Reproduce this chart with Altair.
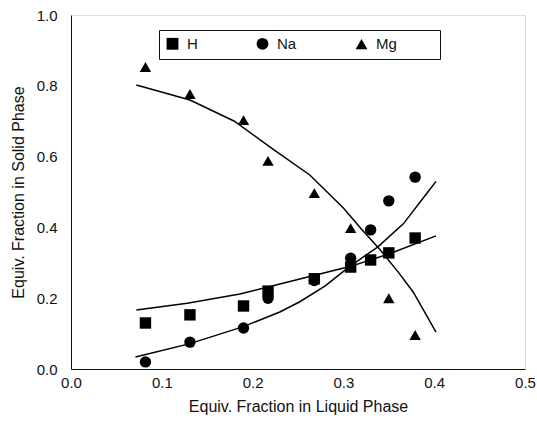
import altair as alt
import pandas as pd

# ---- data ----
liquid_x = [0.082, 0.131, 0.19, 0.217, 0.268, 0.308, 0.330, 0.350, 0.379]
h_solid = [0.130, 0.153, 0.178, 0.220, 0.255, 0.288, 0.308, 0.328, 0.370]
na_solid = [0.020, 0.076, 0.116, 0.200, 0.250, 0.313, 0.393, 0.475, 0.542]
mg_solid = [0.853, 0.777, 0.703, 0.588, 0.497, 0.398, None, 0.200, 0.096]

h_fit_x = [0.072, 0.128, 0.186, 0.252, 0.308, 0.350, 0.402]
h_fit_y = [0.167, 0.186, 0.212, 0.254, 0.290, 0.325, 0.376]

na_fit_x = [0.071, 0.130, 0.189, 0.230, 0.252, 0.280, 0.307, 0.338, 0.366, 0.393, 0.402]
na_fit_y = [0.034, 0.071, 0.119, 0.161, 0.190, 0.235, 0.290, 0.345, 0.410, 0.500, 0.530]

mg_fit_x = [0.072, 0.131, 0.180, 0.222, 0.263, 0.300, 0.320, 0.340, 0.360, 0.377, 0.402]
mg_fit_y = [0.802, 0.760, 0.700, 0.622, 0.548, 0.455, 0.395, 0.338, 0.275, 0.217, 0.104]

ions = ["H", "Na", "Mg"]
shapes = ["square", "circle", "triangle-up"]

rows = []
for ion, ys in zip(ions, [h_solid, na_solid, mg_solid]):
    for x, y in zip(liquid_x, ys):
        if y is not None:
            rows.append({"x": x, "y": y, "ion": ion})
pts = pd.DataFrame(rows)

frows = []
for ion, xs, ys in zip(ions, [h_fit_x, na_fit_x, mg_fit_x], [h_fit_y, na_fit_y, mg_fit_y]):
    for i, (x, y) in enumerate(zip(xs, ys)):
        frows.append({"x": x, "y": y, "ion": ion, "order": i})
fits = pd.DataFrame(frows)

FONT = "Liberation Sans"

xscale = alt.Scale(domain=[0, 0.5], nice=False)
yscale = alt.Scale(domain=[0, 1.0], nice=False)

xaxis = alt.Axis(title="Equiv. Fraction in Liquid Phase", values=[0, 0.1, 0.2, 0.3, 0.4, 0.5],
                 format=".1f", grid=False, ticks=False, labelPadding=6,
                 labelFontSize=15, titleFontSize=16, titleFontWeight="normal",
                 labelFont=FONT, titleFont=FONT, labelColor="#111", titleColor="#111",
                 domainColor="#111", titlePadding=8, labelFlush=False)
yaxis = alt.Axis(title="Equiv. Fraction in Solid Phase", values=[0, 0.2, 0.4, 0.6, 0.8, 1.0],
                 format=".1f", grid=False, ticks=False, labelPadding=14,
                 labelFontSize=15, titleFontSize=16, titleFontWeight="normal",
                 labelFont=FONT, titleFont=FONT, labelColor="#111", titleColor="#111",
                 domainColor="#111", titlePadding=10, labelFlush=False)

lines = alt.Chart(fits).mark_line(color="black", strokeWidth=1.5).encode(
    x=alt.X("x:Q", scale=xscale, axis=xaxis),
    y=alt.Y("y:Q", scale=yscale, axis=yaxis),
    detail="ion:N",
    order="order:Q",
)

points = alt.Chart(pts).mark_point(filled=True, opacity=1, color="black").encode(
    x=alt.X("x:Q", scale=xscale),
    y=alt.Y("y:Q", scale=yscale),
    shape=alt.Shape("ion:N", scale=alt.Scale(domain=ions, range=shapes),
                    legend=alt.Legend(
                        title="\u2800", titleOrient="right", titlePadding=26,
                        titleFontSize=15, titleFont=FONT,
                        orient="none", direction="horizontal",
                        legendX=88, legendY=15, padding=6,
                        strokeColor="#111", fillColor="white",
                        columnPadding=55, labelOffset=7,
                        symbolSize=140, symbolFillColor="black", symbolStrokeColor="black",
                        labelFont=FONT, labelFontSize=15, labelColor="#111",
                    )),
    size=alt.value(130),
)

chart = alt.layer(lines, points).properties(
    width=454, height=354,
    autosize=alt.AutoSizeParams(type="none"),
    padding={"left": 71, "top": 15, "right": 12, "bottom": 54},
).configure_view(stroke="#111", strokeWidth=1).configure(background="white")

chart.save("out.html", embed_options={"renderer": "svg", "actions": False})
